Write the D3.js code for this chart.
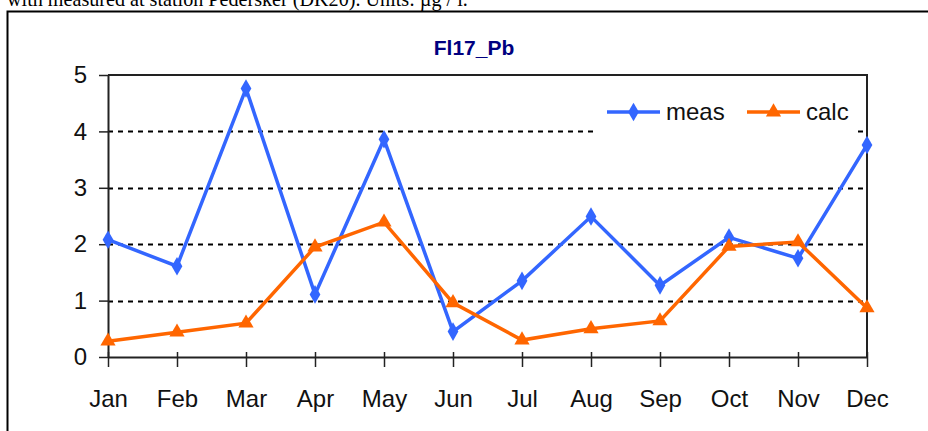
<!DOCTYPE html>
<html>
<head>
<meta charset="utf-8">
<script src="https://cdn.jsdelivr.net/npm/d3@7"></script>
<style>
  html, body { margin: 0; padding: 0; background: #fff; overflow: hidden; }
  svg { display: block; }
</style>
</head>
<body>
<svg></svg>
<script>
const months = ["Jan", "Feb", "Mar", "Apr", "May", "Jun", "Jul", "Aug", "Sep", "Oct", "Nov", "Dec"];
const meas = [2.08, 1.61, 4.76, 1.11, 3.86, 0.45, 1.35, 2.49, 1.27, 2.12, 1.75, 3.76];
const calc = [0.28, 0.44, 0.6, 1.95, 2.39, 0.96, 0.3, 0.5, 0.64, 1.96, 2.04, 0.87];
const yTicks = [0, 1, 2, 3, 4, 5];

const width = 928;
const height = 431;

const svg = d3.select("svg")
    .attr("width", width)
    .attr("height", height);

// caption cut off at the top of the picture
const caption = svg.append("text")
    .attr("x", 7)
    .attr("y", 6)
    .attr("font-family", "Liberation Serif, Times New Roman, serif")
    .attr("font-size", 24)
    .attr("fill", "#000")
    .text("with measured at station Pedersker (DK20). Units: µg / l.");
// fit caption to the width seen in the picture
const capLen = caption.node().getComputedTextLength();
caption.attr("font-size", 24 * 461 / capLen);

// outer frame (runs off the right and bottom)
svg.append("rect")
    .attr("x", 7.5)
    .attr("y", 11.5)
    .attr("width", 1000)
    .attr("height", 600)
    .attr("fill", "none")
    .attr("stroke", "#000")
    .attr("stroke-width", 2);

const margin = { left: 108, right: 867, top: 75, bottom: 357 };

const x = d3.scalePoint()
    .domain(months)
    .range([margin.left, margin.right]);

const y = d3.scaleLinear()
    .domain([0, 5])
    .range([margin.bottom, margin.top]);

// title
svg.append("text")
    .attr("x", 474)
    .attr("y", 55)
    .attr("text-anchor", "middle")
    .attr("font-family", "Liberation Sans, Arial, sans-serif")
    .attr("font-weight", "bold")
    .attr("font-size", 21)
    .attr("fill", "#000080")
    .text("Fl17_Pb");

// dashed grid
svg.append("g")
    .selectAll("line")
    .data(yTicks.filter(d => d > 0 && d < 5))
    .enter().append("line")
    .attr("x1", margin.left)
    .attr("x2", margin.right)
    .attr("y1", d => Math.round(y(d)) + 0.5)
    .attr("y2", d => Math.round(y(d)) + 0.5)
    .attr("stroke", "#000")
    .attr("stroke-width", 2)
    .attr("stroke-dasharray", "5,5");

// plot box top + right
svg.append("path")
    .attr("d", `M${margin.left},${margin.top}H${margin.right}V${margin.bottom}`)
    .attr("fill", "none")
    .attr("stroke", "#222")
    .attr("stroke-width", 2);

// axes
const xAxis = svg.append("g")
    .attr("transform", `translate(0,${margin.bottom})`)
    .call(d3.axisBottom(x).tickSizeInner(10).tickSizeOuter(0).tickPadding(23));

xAxis.select(".domain").attr("stroke", "#222").attr("stroke-width", 2);
xAxis.selectAll(".tick line")
    .attr("y1", -5)
    .attr("stroke", "#222")
    .attr("stroke-width", 1.5);
xAxis.selectAll(".tick text")
    .attr("font-family", "Liberation Sans, Arial, sans-serif")
    .attr("font-size", 24)
    .attr("fill", "#111");

const yAxis = svg.append("g")
    .attr("transform", `translate(${margin.left},0)`)
    .call(d3.axisLeft(y).tickValues(yTicks).tickFormat(d3.format("d"))
        .tickSizeInner(9).tickSizeOuter(0).tickPadding(12));

yAxis.select(".domain").attr("stroke", "#222").attr("stroke-width", 2);
yAxis.selectAll(".tick line").attr("stroke", "#222").attr("stroke-width", 1.5);
yAxis.selectAll(".tick text")
    .attr("font-family", "Liberation Sans, Arial, sans-serif")
    .attr("font-size", 24)
    .attr("fill", "#111");

// legend background (covers the grid line)
const legend = svg.append("g");
legend.append("rect")
    .attr("x", 596)
    .attr("y", 94)
    .attr("width", 258)
    .attr("height", 42)
    .attr("fill", "#fff");

const diamond = d3.symbol().type(d3.symbolDiamond).size(100);
const triangle = d3.symbol().type(d3.symbolTriangle).size(100);

const series = [
  { name: "meas", values: meas, color: "#3366ff", symbol: diamond, lx: 607 },
  { name: "calc", values: calc, color: "#ff6600", symbol: triangle, lx: 747 }
];

const line = d3.line()
    .x((d, i) => x(months[i]))
    .y(d => y(d));

series.forEach(s => {
  svg.append("path")
      .datum(s.values)
      .attr("d", line)
      .attr("fill", "none")
      .attr("stroke", s.color)
      .attr("stroke-width", 3.5);

  svg.append("g")
      .selectAll("path")
      .data(s.values)
      .enter().append("path")
      .attr("d", s.symbol)
      .attr("transform", (d, i) => `translate(${x(months[i])},${y(d)})`)
      .attr("fill", s.color);

  legend.append("line")
      .attr("x1", s.lx)
      .attr("x2", s.lx + 53)
      .attr("y1", 112)
      .attr("y2", 112)
      .attr("stroke", s.color)
      .attr("stroke-width", 3.5);
  legend.append("path")
      .attr("d", s.symbol)
      .attr("transform", `translate(${s.lx + 26.5},112)`)
      .attr("fill", s.color);
  legend.append("text")
      .attr("x", s.lx + 59)
      .attr("y", 120)
      .attr("font-family", "Liberation Sans, Arial, sans-serif")
      .attr("font-size", 24)
      .attr("fill", "#111")
      .text(s.name);
});
</script>
</body>
</html>
